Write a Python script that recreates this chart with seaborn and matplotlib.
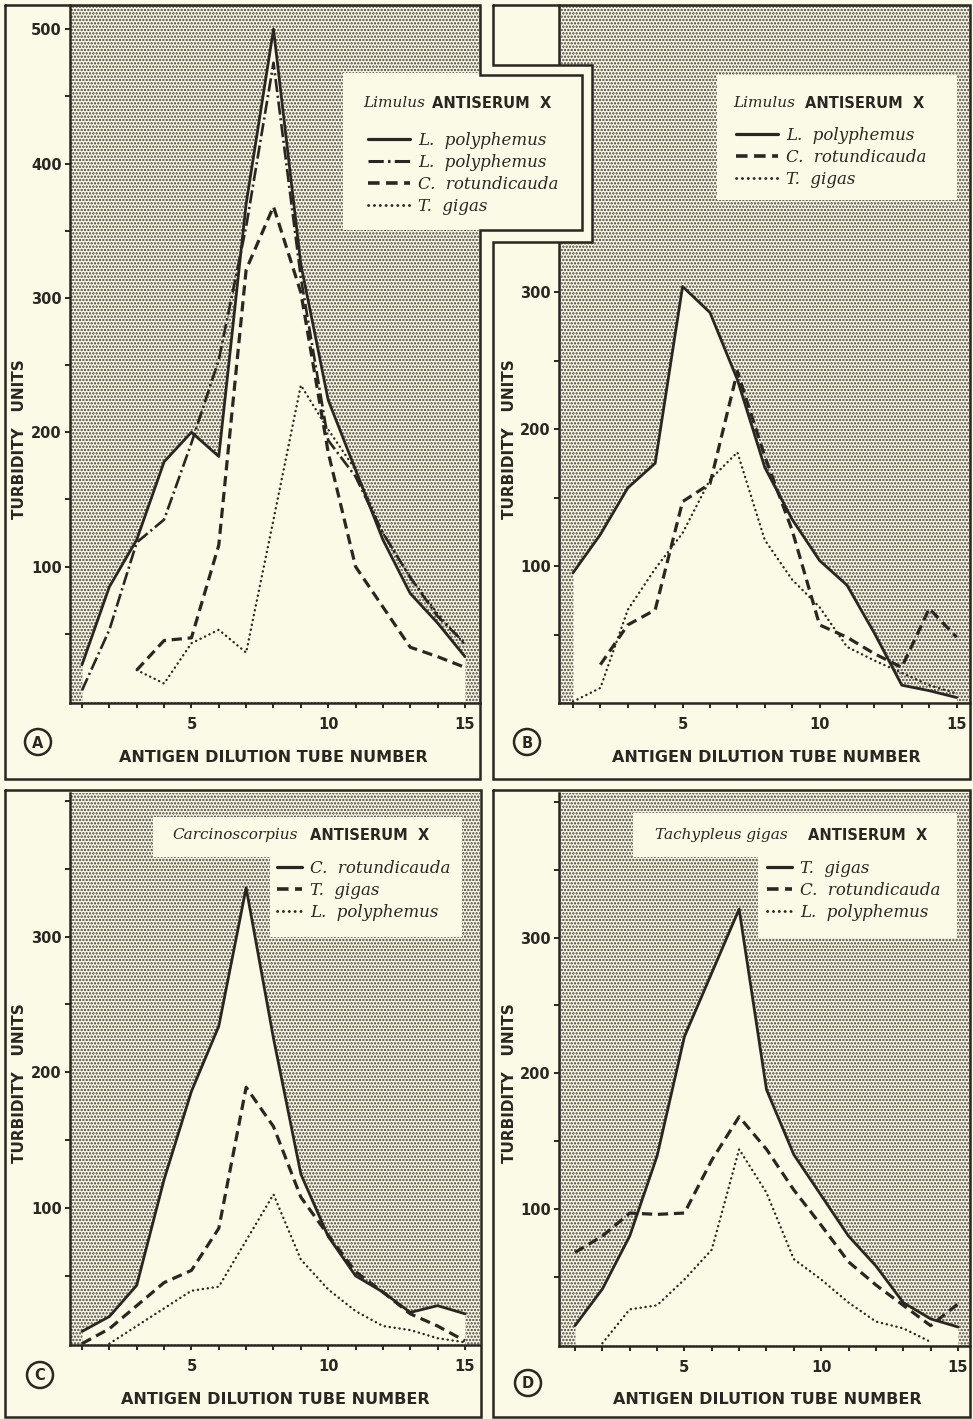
import numpy as np
import matplotlib
matplotlib.use("Agg")
import matplotlib.pyplot as plt
import seaborn as sns
from matplotlib.patches import Rectangle, Circle
from matplotlib.lines import Line2D
from matplotlib.transforms import Affine2D

W, H = 973, 1419
PAPER = "#fbfae6"
INK = "#2b2622"
DOTS = "#433e37"
nan = np.nan

# tube numbers (x)
tubes = [1, 2, 3, 4, 5, 6, 7, 8, 9, 10, 11, 12, 13, 14, 15]

# A: Limulus antiserum X
a_lpoly1 = [27, 85, 120, 178, 200, 182, 370, 500, 325, 224, 172, 120, 80, 58, 33]
a_lpoly2 = [8, 53, 118, 135, 192, 254, 353, 475, 315, 194, 167, 125, 92, 63, 43]
a_crot = [nan, nan, 23, 45, 47, 116, 321, 368, 304, 185, 100, 70, 40, 33, 25]
a_tgig = [nan, nan, 23, 13, 43, 53, 36, 135, 235, 202, 172, 125, 92, 65, 42]

# B: Limulus antiserum X
b_lpoly = [95, 123, 157, 175, 304, 285, 236, 172, 134, 104, 86, 51, 13, 9, 4]
b_crot = [nan, 28, 57, 68, 147, 160, 242, 180, 126, 57, 48, 36, 26, 69, 48]
b_tgig = [1, 11, 68, 98, 124, 163, 183, 119, 90, 70, 41, 31, 22, 13, 7]

# C: Carcinoscorpius antiserum X
c_crot = [9, 20, 43, 121, 186, 234, 336, 225, 125, 79, 50, 38, 23, 28, 22]
c_tgig = [0, 11, 28, 45, 54, 85, 189, 160, 108, 80, 53, 38, 22, 13, 2]
c_lpoly = [nan, 0, 13, 26, 39, 42, 76, 110, 62, 40, 24, 13, 10, 4, 1]

# D: Tachypleus gigas antiserum X
d_tgig = [14, 41, 80, 139, 227, 274, 321, 188, 140, 110, 80, 58, 31, 19, 13]
d_crot = [68, 80, 97, 96, 97, 136, 168, 144, 114, 88, 61, 44, 29, 14, 30]
d_lpoly = [nan, 1, 26, 29, 48, 70, 144, 112, 63, 48, 31, 17, 12, 2, nan]

styles = {
    "solid": dict(ls="-", lw=2.0),
    "dashdot": dict(ls=(0, (5, 1.4, 0.8, 1.4)), lw=1.9),
    "dashed": dict(ls=(0, (3.2, 1.8)), lw=2.3),
    "dotted": dict(ls=(0, (0.1, 2.0)), lw=1.7),
}

sns.set_style("ticks")
plt.rcParams["hatch.color"] = DOTS
plt.rcParams["hatch.linewidth"] = 1.1

fig = plt.figure(figsize=(W / 100, H / 100), dpi=100, facecolor=PAPER)
PX = Affine2D().scale(1 / W, -1 / H).translate(0, 1) + fig.transFigure

serif_it = dict(family="DejaVu Serif", style="italic")
sans_bd = dict(family="DejaVu Sans", weight="bold")

panels = [
    dict(letter="A", box=(70, 5, 480, 703), xlim=(0.56, 15.55), ylim=(-1.5, 518),
         yticks=list(range(50, 501, 50)), ymaxlab=500,
         series=[(a_lpoly1, "solid", "L.  polyphemus"), (a_lpoly2, "dashdot", "L.  polyphemus"),
                 (a_crot, "dashed", "C.  rotundicauda"), (a_tgig, "dotted", "T.  gigas")],
         title=("Limulus", 363, "ANTISERUM  X", 432, 103),
         leg=(368, 132, 2.5), circle=(38, 742), xlab=(273, 758), ylab=(20, 439)),
    dict(letter="B", box=(559, 5, 970, 703), xlim=(0.49, 15.49), ylim=(0, 509.5),
         yticks=list(range(50, 351, 50)), ymaxlab=300,
         series=[(b_lpoly, "solid", "L.  polyphemus"), (b_crot, "dashed", "C.  rotundicauda"),
                 (b_tgig, "dotted", "T.  gigas")],
         title=("Limulus", 733, "ANTISERUM  X", 805, 103),
         leg=(736, 127, 2.5), circle=(527, 742), xlab=(766, 758), ylab=(509, 439)),
    dict(letter="C", box=(70, 793, 480, 1345), xlim=(0.56, 15.55), ylim=(-1, 405.9),
         yticks=list(range(50, 401, 50)), ymaxlab=300,
         series=[(c_crot, "solid", "C.  rotundicauda"), (c_tgig, "dashed", "T.  gigas"),
                 (c_lpoly, "dotted", "L.  polyphemus")],
         title=("Carcinoscorpius", 172, "ANTISERUM  X", 310, 835),
         leg=(277, 860, 1.5), circle=(40, 1375), xlab=(275, 1399), ylab=(20, 1083)),
    dict(letter="D", box=(559, 793, 970, 1346), xlim=(0.415, 15.44), ylim=(-1, 406.6),
         yticks=list(range(50, 401, 50)), ymaxlab=300,
         series=[(d_tgig, "solid", "T.  gigas"), (d_crot, "dashed", "C.  rotundicauda"),
                 (d_lpoly, "dotted", "L.  polyphemus")],
         title=("Tachypleus gigas", 655, "ANTISERUM  X", 808, 835),
         leg=(767, 860, 1.5), circle=(528, 1383), xlab=(767, 1399), ylab=(509, 1083)),
]

for p in panels:
    l, t, r, b = p["box"]
    ax = fig.add_axes([l / W, 1 - b / H, (r - l) / W, (b - t) / H])
    ax.set_facecolor(PAPER)
    # stippled background, light area under the first curve
    ax.add_patch(Rectangle((0, 0), 1, 1, transform=ax.transAxes, facecolor="#f6f4e1",
                           edgecolor=DOTS, hatch=".....", lw=0, zorder=0.2))
    first = p["series"][0][0]
    ax.fill_between(tubes, 0, first, color=PAPER, lw=0, zorder=0.5)

    handles = []
    for vals, sty, lab in p["series"]:
        sns.lineplot(x=tubes, y=vals, ax=ax, color=INK, errorbar=None, zorder=3)
        ln = ax.lines[-1]
        ln.set_linestyle(styles[sty]["ls"])
        ln.set_linewidth(styles[sty]["lw"])
        ln.set_dash_capstyle("round" if sty == "dotted" else "butt")
        ln.set_solid_capstyle("round")
        handles.append(Line2D([], [], color=INK, linestyle=styles[sty]["ls"],
                              lw=styles[sty]["lw"] + 0.3,
                              dash_capstyle="round" if sty == "dotted" else "butt"))

    ax.set_xlim(*p["xlim"])
    ax.set_ylim(*p["ylim"])
    ax.set_xticks(tubes)
    ax.set_xticklabels([str(v) if v % 5 == 0 else "" for v in tubes])
    ax.set_yticks(p["yticks"])
    ax.set_yticklabels([str(v) if (v % 100 == 0 and v <= p["ymaxlab"]) else ""
                        for v in p["yticks"]])
    ax.tick_params(axis="both", direction="out", length=3.8, width=1.4, color=INK,
                   labelcolor=INK, labelsize=10.5)
    ax.tick_params(axis="x", pad=6)
    ax.tick_params(axis="y", pad=2)
    for lab in ax.get_xticklabels() + ax.get_yticklabels():
        lab.set_fontweight("bold")
    for s in ["top", "right"]:
        ax.spines[s].set_visible(False)
    for s in ["left", "bottom"]:
        ax.spines[s].set_linewidth(1.8)
        ax.spines[s].set_color(INK)
    ax.set_xlabel("")
    ax.set_ylabel("")

    # axis labels and panel letter
    fig.text(p["xlab"][0], p["xlab"][1], "ANTIGEN DILUTION TUBE NUMBER", transform=PX,
             ha="center", va="center", fontsize=11.5, color=INK, **sans_bd)
    fig.text(p["ylab"][0], p["ylab"][1], "TURBIDITY   UNITS", transform=PX, rotation=90,
             ha="center", va="center", fontsize=11, color=INK, **sans_bd)
    fig.patches.append(Circle(p["circle"], 13, transform=PX, facecolor="none",
                              edgecolor=INK, lw=1.8, zorder=2))
    fig.text(p["circle"][0], p["circle"][1] + 1, p["letter"], transform=PX, ha="center",
             va="center", fontsize=10.5, color=INK, **sans_bd)

    # legend title and entries
    tt = p["title"]
    fig.text(tt[1], tt[4], tt[0], transform=PX, ha="left", va="center", fontsize=11,
             color=INK, zorder=6, **serif_it)
    fig.text(tt[3], tt[4], tt[2], transform=PX, ha="left", va="center", fontsize=10.5,
             color=INK, zorder=6, **sans_bd)
    lx, ly, hl = p["leg"]
    leg = fig.legend(handles, [s[2] for s in p["series"]], loc="upper left",
                     bbox_to_anchor=(lx, ly), bbox_transform=PX, frameon=False,
                     borderpad=0, borderaxespad=0, handlelength=hl, handletextpad=0.5,
                     labelspacing=0.3, prop=dict(size=12, **serif_it))
    for txt in leg.get_texts():
        txt.set_color(INK)

# legend white boxes (drawn over the stipple)
boxes = [(343, 73, 239, 157), (480, 65, 112, 177), (717, 75, 240, 125),
         (153, 817, 309, 40), (270, 857, 192, 80),
         (633, 813, 324, 44), (758, 857, 199, 81)]
for x0, y0, w, h in boxes:
    fig.patches.append(Rectangle((x0, y0), w, h, transform=PX, facecolor=PAPER,
                                 edgecolor="none", zorder=1))

# panel frames
frames = [
    [(5, 5), (480, 5), (480, 75), (582, 75), (582, 230), (480, 230), (480, 779), (5, 779), (5, 5)],
    [(493, 5), (970, 5), (970, 779), (493, 779), (493, 242), (592, 242), (592, 65), (493, 65), (493, 5)],
    [(5, 790), (481, 790), (481, 1417), (5, 1417), (5, 790)],
    [(493, 790), (970, 790), (970, 1417), (493, 1417), (493, 790)],
]
for fr in frames:
    xs, ys = zip(*fr)
    fig.lines.append(Line2D(xs, ys, transform=PX, color=INK, lw=1.8, zorder=2,
                            solid_joinstyle="miter"))

fig.savefig("out.png", dpi=100, facecolor=PAPER)
